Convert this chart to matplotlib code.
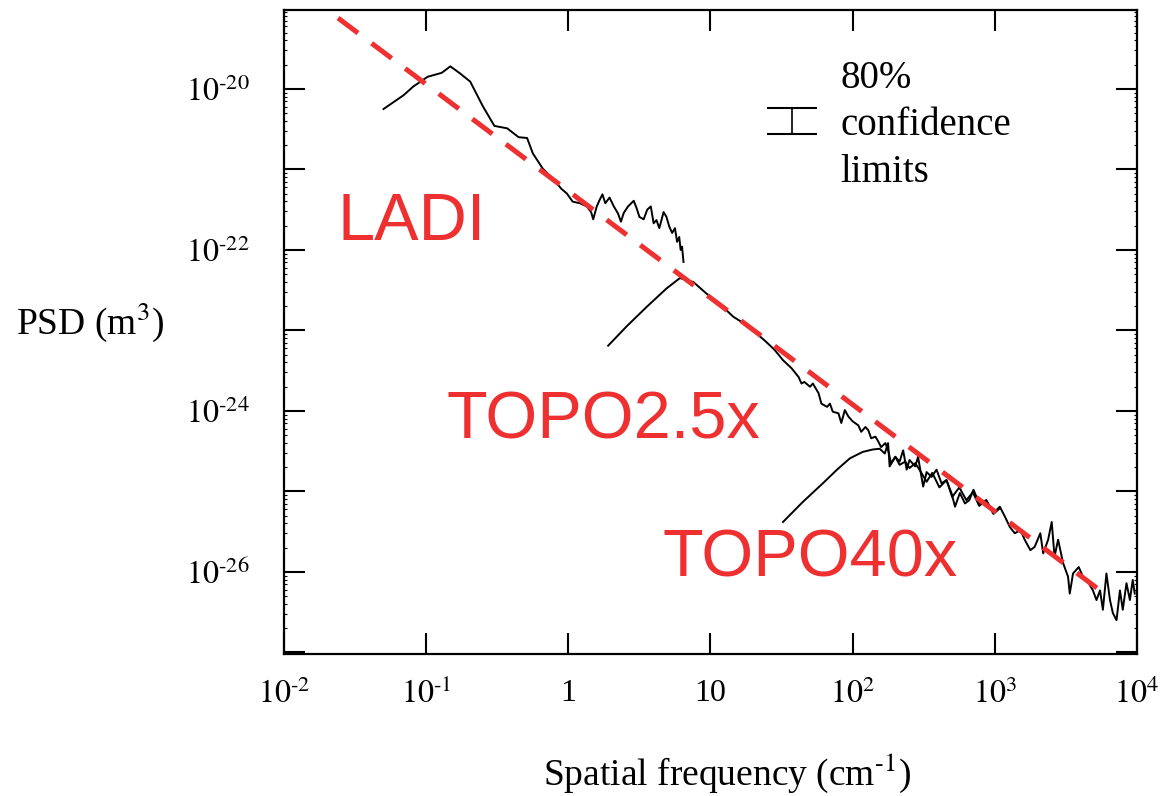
import matplotlib
matplotlib.use("Agg")
import matplotlib.pyplot as plt
from matplotlib.ticker import FixedLocator, FixedFormatter, NullFormatter
import numpy as np

# spectra digitised as log10(frequency / cm^-1) and log10(PSD / m^3)
ladi_logf = [-1.30, -1.16, -1.09, -0.99, -0.89, -0.83, -0.76, -0.69, -0.60, -0.52,
             -0.43, -0.35, -0.29, -0.25, -0.18, -0.09, -0.05, -0.01, 0.03, 0.08,
             0.13, 0.16, 0.175, 0.20, 0.22, 0.24, 0.26, 0.29, 0.32, 0.35,
             0.37, 0.39, 0.42, 0.46, 0.48, 0.50, 0.53, 0.555, 0.58, 0.60,
             0.62, 0.64, 0.67, 0.69, 0.71, 0.73, 0.75, 0.765, 0.78, 0.79,
             0.80, 0.81]
ladi_logp = [-20.25, -20.08, -19.97, -19.85, -19.80, -19.72, -19.81, -19.91, -20.22, -20.46,
             -20.49, -20.60, -20.61, -20.80, -20.99, -21.15, -21.24, -21.30, -21.40, -21.42,
             -21.46, -21.53, -21.62, -21.46, -21.38, -21.31, -21.42, -21.35, -21.46, -21.55,
             -21.65, -21.54, -21.46, -21.39, -21.48, -21.59, -21.62, -21.50, -21.46, -21.67,
             -21.63, -21.73, -21.53, -21.59, -21.71, -21.79, -21.73, -21.90, -21.84, -22.00,
             -21.96, -22.15]

topo25_logf = [0.28, 0.41, 0.55, 0.69, 0.785, 0.88, 0.97, 1.07, 1.16, 1.25,
               1.30, 1.39, 1.45, 1.51, 1.57, 1.62, 1.64, 1.66, 1.70, 1.72,
               1.76, 1.78, 1.82, 1.84, 1.86, 1.90, 1.92, 1.945, 1.97, 2.00,
               2.04, 2.06, 2.09, 2.11, 2.13, 2.16, 2.18, 2.20, 2.23, 2.25,
               2.27, 2.30, 2.33, 2.37, 2.40, 2.44, 2.47, 2.52, 2.56, 2.61,
               2.66, 2.70, 2.75, 2.80, 2.845, 2.89, 2.94, 2.99, 3.035]
topo25_logp = [-23.19, -22.95, -22.71, -22.48, -22.35, -22.40, -22.54, -22.68, -22.83, -22.93,
               -23.00, -23.14, -23.24, -23.37, -23.47, -23.58, -23.66, -23.64, -23.70, -23.66,
               -23.78, -23.91, -23.95, -23.91, -24.01, -24.03, -24.15, -23.99, -24.07, -24.13,
               -24.18, -24.26, -24.20, -24.24, -24.34, -24.32, -24.38, -24.45, -24.40, -24.49,
               -24.65, -24.57, -24.67, -24.63, -24.71, -24.65, -24.73, -24.88, -24.77, -24.95,
               -24.86, -25.07, -24.95, -25.11, -25.01, -25.18, -25.11, -25.28, -25.21]

topo40_logf = [1.51, 1.65, 1.79, 1.89, 1.98, 2.07, 2.14, 2.19, 2.226, 2.249,
               2.26, 2.30, 2.33, 2.355, 2.38, 2.40, 2.44, 2.46, 2.484, 2.496,
               2.52, 2.555, 2.59, 2.625, 2.66, 2.695, 2.72, 2.754, 2.79, 2.82,
               2.85, 2.89, 2.94, 2.99, 3.035, 3.07, 3.105, 3.14, 3.18, 3.21,
               3.25, 3.28, 3.32, 3.34, 3.375, 3.40, 3.42, 3.445, 3.48, 3.515,
               3.527, 3.55, 3.59, 3.62, 3.66, 3.69, 3.715, 3.74, 3.76, 3.785,
               3.81, 3.83, 3.856, 3.88, 3.90, 3.926, 3.95, 3.97, 3.984]
topo40_logp = [-25.38, -25.13, -24.90, -24.73, -24.59, -24.51, -24.48, -24.47, -24.53, -24.40,
               -24.69, -24.57, -24.63, -24.49, -24.73, -24.61, -24.69, -24.57, -24.82, -24.94,
               -24.76, -24.82, -24.73, -24.90, -24.86, -25.02, -25.19, -25.02, -25.15, -25.11,
               -24.98, -25.15, -25.11, -25.27, -25.19, -25.31, -25.44, -25.52, -25.48, -25.60,
               -25.73, -25.69, -25.52, -25.77, -25.60, -25.38, -25.81, -25.60, -25.89, -26.06,
               -26.27, -26.02, -25.94, -26.06, -26.14, -26.23, -26.35, -26.23, -26.47, -26.02,
               -26.35, -26.51, -26.60, -26.23, -26.47, -26.14, -26.35, -26.10, -26.27]

# power-law fit, end points
fit_logf = [-1.62, 3.74]
fit_logp = [-19.12, -26.23]

# 80% confidence bar
conf_logf = 1.57
conf_logp_lo = -20.56
conf_logp_hi = -20.24

xtick_exp = [-2, -1, 0, 1, 2, 3, 4]
xtick_labels = [r"$10^{\text{-}2}$", r"$10^{\text{-}1}$", "1", "10",
                "$10^{2}$", "$10^{3}$", "$10^{4}$"]
ytick_exp = [-27, -26, -25, -24, -23, -22, -21, -20, -19]

RED = "#ee3030"


def p10(a):
    return 10.0 ** np.asarray(a)


def plot():
    plt.rcParams["font.family"] = "Liberation Serif"
    plt.rcParams["mathtext.fontset"] = "stix"

    fig = plt.figure(figsize=(11.67, 7.96), dpi=100)
    ax = fig.add_axes([284 / 1167, 1 - 654 / 796, 853 / 1167, 644 / 796])
    ax.set_xscale("log")
    ax.set_yscale("log")
    ax.set_xlim(1e-2, 1e4)
    ax.set_ylim(10 ** -27.02, 10 ** -19.02)

    ax.plot(p10(ladi_logf), p10(ladi_logp), color="black", lw=1.4)
    ax.plot(p10(topo25_logf), p10(topo25_logp), color="black", lw=1.4)
    ax.plot(p10(topo40_logf), p10(topo40_logp), color="black", lw=1.4)

    ax.plot(p10(fit_logf), p10(fit_logp), color=RED, lw=3.6,
            linestyle=(0, (5, 3.4)), zorder=3)

    yc = 10 ** ((conf_logp_lo + conf_logp_hi) / 2)
    ax.errorbar([10 ** conf_logf], [yc],
                yerr=[[yc - 10 ** conf_logp_lo], [10 ** conf_logp_hi - yc]],
                color="black", lw=1.2, capsize=18, capthick=1.5)

    ax.text(0.652, 0.879, "80%", transform=ax.transAxes, fontsize=28)
    ax.text(0.652, 0.806, "confidence", transform=ax.transAxes, fontsize=28)
    ax.text(0.652, 0.733, "limits", transform=ax.transAxes, fontsize=28)

    sans = "Liberation Sans"
    ax.text(0.063, 0.643, "LADI", transform=ax.transAxes, fontsize=48,
            color=RED, family=sans)
    ax.text(0.190, 0.335, "TOPO2.5x", transform=ax.transAxes, fontsize=48,
            color=RED, family=sans)
    ax.text(0.444, 0.120, "TOPO40x", transform=ax.transAxes, fontsize=48,
            color=RED, family=sans)

    ax.xaxis.set_major_locator(FixedLocator(p10(xtick_exp)))
    ax.xaxis.set_major_formatter(FixedFormatter(xtick_labels))
    ax.xaxis.set_minor_locator(FixedLocator([]))
    ax.yaxis.set_major_locator(FixedLocator(p10(ytick_exp)))
    ax.yaxis.set_major_formatter(FixedFormatter(
        ["" if e % 2 else r"$10^{\text{-}%d}$" % -e for e in ytick_exp]))
    ax.yaxis.set_minor_formatter(NullFormatter())

    ax.tick_params(which="major", direction="in", length=15, width=1.5,
                   top=True, right=True, labelsize=23)
    ax.tick_params(axis="x", which="major", pad=18)
    ax.tick_params(axis="y", which="major", pad=25)
    ax.tick_params(axis="y", which="minor", direction="in", length=2.5,
                   width=0.8, right=True)
    for s in ax.spines.values():
        s.set_linewidth(1.6)

    ax.set_xlabel("Spatial frequency (cm$^{\\text{-}1}$)", fontsize=27, va="center")
    ax.xaxis.set_label_coords(0.52, -0.185)
    ax.set_ylabel("PSD (m$^3$)", fontsize=27, rotation=0, ha="center", va="center")
    ax.yaxis.set_label_coords(-0.227, 0.516)

    plt.savefig("out.png", dpi=100)


if __name__ == "__main__":
    plot()
